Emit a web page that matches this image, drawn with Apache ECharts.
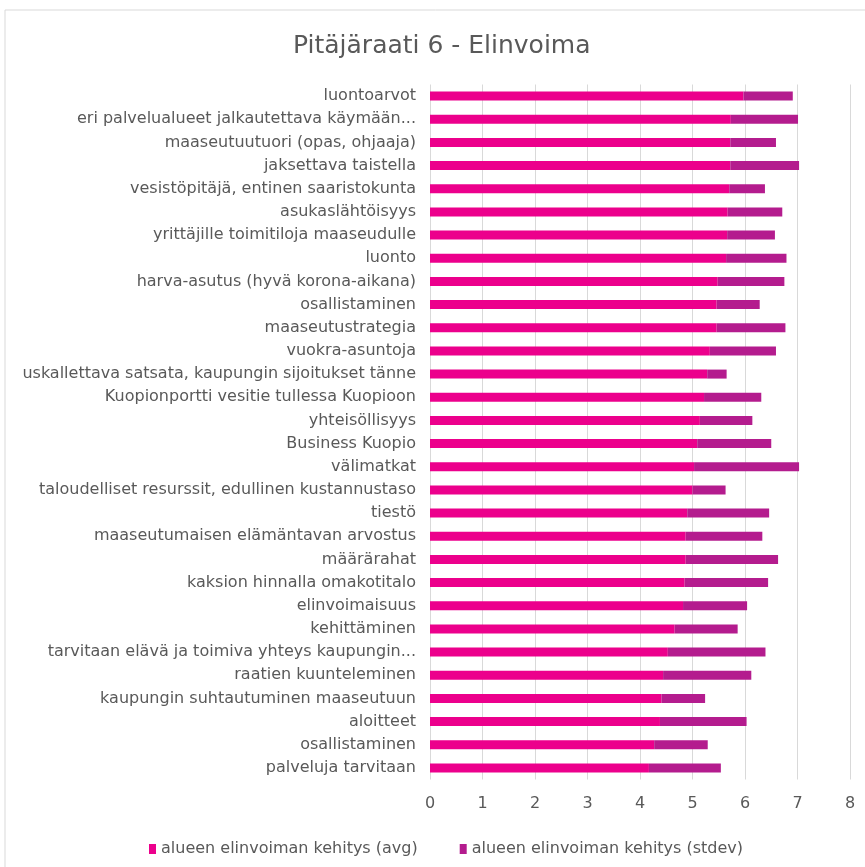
<!DOCTYPE html>
<html><head><meta charset="utf-8">
<script src="https://cdn.jsdelivr.net/npm/echarts@6/dist/echarts.min.js"></script>
<style>html,body{margin:0;padding:0;background:#fff}#c{width:865px;height:867px}</style>
</head><body><div id="c"></div>
<script>
const categories = [
  "luontoarvot",
  "eri palvelualueet jalkautettava käymään...",
  "maaseutuutuori (opas, ohjaaja)",
  "jaksettava taistella",
  "vesistöpitäjä, entinen saaristokunta",
  "asukaslähtöisyys",
  "yrittäjille toimitiloja maaseudulle",
  "luonto",
  "harva-asutus (hyvä korona-aikana)",
  "osallistaminen",
  "maaseutustrategia",
  "vuokra-asuntoja",
  "uskallettava satsata, kaupungin sijoitukset tänne",
  "Kuopionportti vesitie tullessa Kuopioon",
  "yhteisöllisyys",
  "Business Kuopio",
  "välimatkat",
  "taloudelliset resurssit, edullinen kustannustaso",
  "tiestö",
  "maaseutumaisen elämäntavan arvostus",
  "määrärahat",
  "kaksion hinnalla omakotitalo",
  "elinvoimaisuus",
  "kehittäminen",
  "tarvitaan elävä ja toimiva yhteys kaupungin...",
  "raatien kuunteleminen",
  "kaupungin suhtautuminen maaseutuun",
  "aloitteet",
  "osallistaminen",
  "palveluja tarvitaan"
];
const avgValues = [5.97,5.73,5.72,5.72,5.70,5.67,5.66,5.64,5.48,5.46,5.46,5.33,5.28,5.22,5.14,5.09,5.03,5.00,4.90,4.87,4.87,4.85,4.82,4.66,4.53,4.44,4.41,4.38,4.27,4.17];
const stdevValues = [0.94,1.28,0.87,1.31,0.68,1.04,0.91,1.15,1.27,0.82,1.31,1.26,0.37,1.09,1.00,1.41,2.00,0.63,1.56,1.46,1.76,1.59,1.22,1.20,1.86,1.68,0.83,1.65,1.02,1.37];
const xTicks = [0,1,2,3,4,5,6,7,8];
const seriesNames = ["alueen elinvoiman kehitys (avg)","alueen elinvoiman kehitys (stdev)"];

const FONT = "DejaVu Sans";
const chart = echarts.init(document.getElementById('c'));
chart.setOption({
  animation:false,
  title:{text:"Pitäjäraati 6 - Elinvoima",left:288,top:29,
    textStyle:{fontFamily:FONT,fontSize:25,fontWeight:'normal',color:'#595959'}},
  graphic:[{type:'rect',shape:{x:5,y:10,width:900,height:900},
    style:{fill:'none',stroke:'#d9d9d9',lineWidth:1},silent:true,z:-1}],
  legend:{top:836,left:144,itemWidth:7,itemHeight:10,itemGap:42,icon:'rect',
    textStyle:{fontFamily:FONT,fontSize:16,color:'#595959'},data:seriesNames},
  grid:{left:430,right:15,top:84.5,height:695},
  xAxis:{type:'value',min:0,max:8,interval:1,
    axisLine:{show:false},axisTick:{show:false},
    axisLabel:{fontFamily:FONT,fontSize:16,color:'#595959',margin:16,
      formatter:v=>xTicks.includes(v)?String(v):''},
    splitLine:{lineStyle:{color:'#d9d9d9',width:1}}},
  yAxis:{type:'category',inverse:true,data:categories,
    axisLine:{show:false},axisTick:{show:false},
    axisLabel:{fontFamily:FONT,fontSize:16,color:'#595959',margin:14}},
  series:[
    {name:seriesNames[0],type:'bar',stack:'s',data:avgValues,barWidth:9,
      itemStyle:{color:'#ec008c'}},
    {name:seriesNames[1],type:'bar',stack:'s',data:stdevValues,barWidth:9,
      itemStyle:{color:'#b41c8e'}}
  ]
});
</script></body></html>
